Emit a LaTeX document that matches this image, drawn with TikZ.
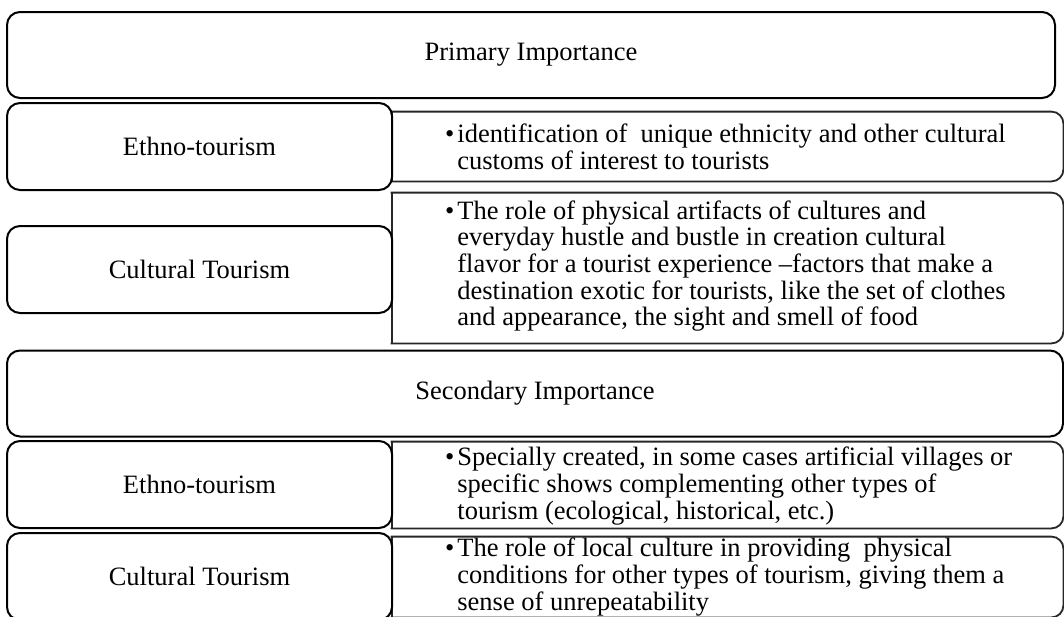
\documentclass[tikz,border=0pt]{standalone}
\usepackage{fontspec}
\setmainfont{Liberation Serif}
\begin{document}
\begin{tikzpicture}[x=0.5pt,y=-0.5pt,
		every node/.style={font=\fontsize{13.25}{13.35}\selectfont},
		headbox/.style={draw,line width=1pt,rounded corners=6.5pt,minimum height=43pt,inner sep=0pt},
		kindbox/.style={draw,line width=1pt,rounded corners=6.5pt,minimum width=192.5pt,minimum height=43.5pt,inner sep=0pt},
		notebox/.style={minimum width=335.5pt,inner sep=0pt},
		noteline/.style={line width=0.9pt,draw=black!85,line cap=rect},
		notetext/.style={anchor=west,align=left,inner sep=0pt}]
		\useasboundingbox (0,0) rectangle (1064,616);
		\clip (0,0) rectangle (1064,616);
		
		% primary block
		\node[notebox,minimum height=34.5pt] (noteA) at (727.5,146.5) {};
		\draw[noteline,rounded corners=6pt] (noteA.north west) -- (noteA.north east) -- (noteA.south east) -- (noteA.south west);
		\draw[noteline] (noteA.south west) -- (noteA.north west);
		\node[notetext] (txtA) at (457,147) {\llap{\textbullet\hspace{1.5pt}}identification of\ \ unique ethnicity and other cultural\\customs of interest to tourists};
		
		\node[notebox,minimum height=75pt] (noteB) at (727.5,268) {};
		\draw[noteline,rounded corners=6pt] (noteB.north west) -- (noteB.north east) -- (noteB.south east) -- (noteB.south west);
		\draw[noteline] (noteB.south west) -- (noteB.north west);
		\node[notetext] (txtB) at (457,266) {\llap{\textbullet\hspace{1.5pt}}The role of physical artifacts of cultures and\\everyday hustle and bustle in creation cultural\\flavor for a tourist experience --factors that make a\\destination exotic for tourists, like the set of clothes\\and appearance, the sight and smell of food};
		
		\node[headbox,minimum width=524pt] (prim) at (531,55) {Primary Importance};
		\node[kindbox] (ethA) at (199.5,146.5) {Ethno-tourism};
		\node[kindbox] (culA) at (199.5,269.5) {Cultural Tourism};
		
		% secondary block
		\node[notebox,minimum height=43pt] (noteC) at (727.5,485) {};
		\draw[noteline,rounded corners=6pt] (noteC.north west) -- (noteC.north east) -- (noteC.south east) -- (noteC.south west);
		\draw[noteline] (noteC.south west) -- (noteC.north west);
		\node[notetext] (txtC) at (457,486) {\llap{\textbullet\hspace{1.5pt}}Specially created, in some cases artificial villages or\\specific shows complementing other types of\\tourism (ecological, historical, etc.)};
		
		\node[notebox,minimum height=40pt] (noteD) at (727.5,577) {};
		\draw[noteline,rounded corners=6pt] (noteD.north west) -- (noteD.north east) -- (noteD.south east) -- (noteD.south west);
		\draw[noteline] (noteD.south west) -- (noteD.north west);
		\node[notetext] (txtD) at (457,577) {\llap{\textbullet\hspace{1.5pt}}The role of local culture in providing\ \ physical\\conditions for other types of tourism, giving them a\\sense of unrepeatability};
		
		\node[headbox,minimum width=528pt] (sec) at (535,393.5) {Secondary Importance};
		\node[kindbox] (ethB) at (199.5,484.5) {Ethno-tourism};
		\node[kindbox] (culB) at (199.5,576.5) {Cultural Tourism};
	\end{tikzpicture}
\end{document}
